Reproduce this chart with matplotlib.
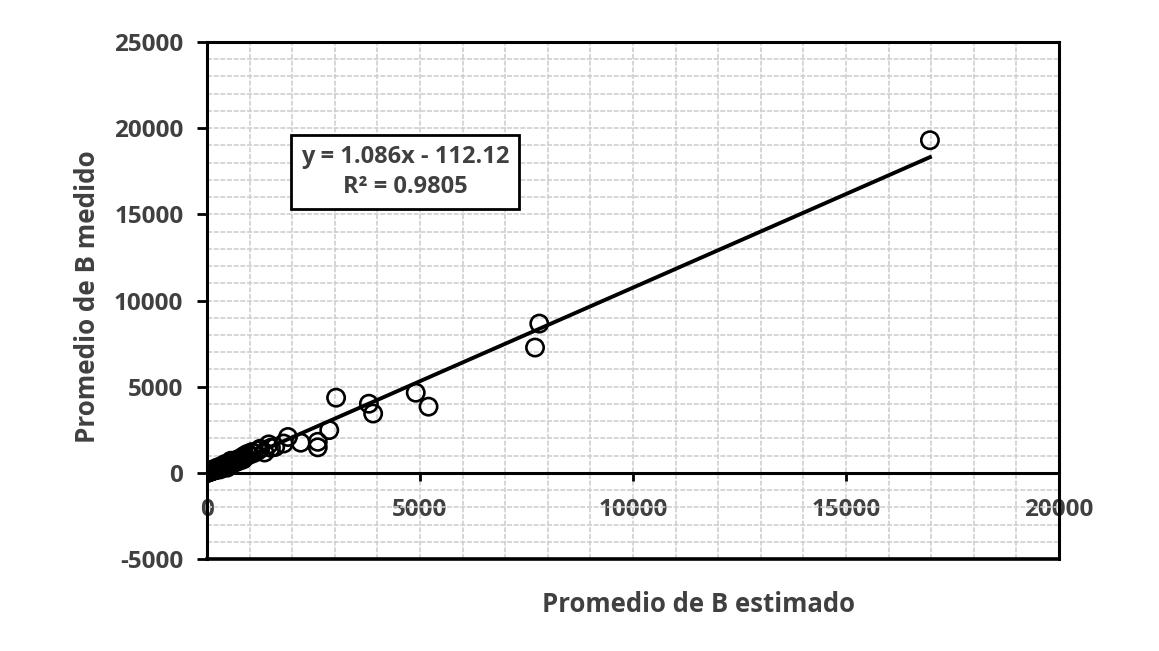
"""Scatter of measured vs estimated B average with linear trend line."""
import matplotlib.pyplot as plt
import numpy as np

estimado = [10, 20, 30, 40, 60, 70, 80, 100, 110, 120, 140, 150, 170, 190,
            200, 220, 230, 250, 260, 280, 300, 310, 320, 340, 350, 380, 400,
            410, 420, 450, 470, 480, 500, 520, 550, 560, 580, 600, 620, 650,
            680, 700, 720, 750, 780, 800, 820, 850, 880, 900, 950, 1000, 1050,
            1100, 1200, 1250, 1350, 1450, 1500, 1600, 1800, 1900, 2200, 2600,
            2600, 2870, 3030, 3800, 3900, 4900, 5200, 7700, 7800, 16970]
medido = [0, 10, 40, 30, 50, 100, 60, 90, 150, 100, 110, 130, 160, 250,
          180, 160, 200, 240, 320, 250, 300, 200, 280, 380, 330, 350, 390,
          500, 420, 400, 300, 460, 500, 480, 560, 700, 600, 550, 640, 700,
          620, 750, 700, 800, 720, 850, 900, 780, 1000, 950, 1100, 1050, 1200,
          1150, 1300, 1400, 1180, 1650, 1450, 1500, 1700, 2080, 1750, 1800,
          1480, 2480, 4360, 4010, 3440, 4650, 3840, 7270, 8660, 19300]

slope, intercept = 1.086, -112.12
r2 = 0.9805

TXT = "#404040"
FONT = ["Open Sans", "DejaVu Sans"]
W, H = 1159, 651
plt.rcParams["axes.unicode_minus"] = False

fig = plt.figure(figsize=(W / 100, H / 100), dpi=100)
ax = fig.add_axes([207 / W, 1 - 559 / H, (1059 - 207) / W, (559 - 42) / H])

ax.set_xlim(0, 20000)
ax.set_ylim(-5000, 25000)
ax.set_xticks(np.arange(0, 20001, 5000))
ax.set_yticks(np.arange(-5000, 25001, 5000))
ax.set_xticks(np.arange(0, 20001, 1000), minor=True)
ax.set_yticks(np.arange(-5000, 25001, 1000), minor=True)
ax.grid(which="both", color="#cfcfcf", linestyle=(0, (3, 1)), linewidth=1.2)
ax.set_axisbelow(True)

for s in ax.spines.values():
    s.set_linewidth(2.2)
ax.spines["bottom"].set_position(("data", 0))
ax.axhline(-5000, color="black", lw=2.6, clip_on=False, zorder=5)

ax.tick_params(axis="x", which="major", direction="out", length=6, width=2,
               pad=12, labelsize=17.5, labelcolor=TXT)
ax.tick_params(axis="y", which="major", direction="out", length=7, width=2,
               pad=10, labelsize=17.5, labelcolor=TXT)
ax.tick_params(which="minor", length=0)
for lab in ax.get_xticklabels() + ax.get_yticklabels():
    lab.set_fontfamily(FONT)
    lab.set_fontweight("bold")

ax.scatter(estimado, medido, s=155, facecolors="none", edgecolors="black",
           linewidths=1.9, zorder=4)

xs = np.array([min(estimado), max(estimado)])
ax.plot(xs, slope * xs + intercept, color="black", lw=2.8, zorder=3)

ax.text(405 / W, 1 - 172 / H,
        f"y = {slope}x - {abs(intercept)}\nR² = {r2}",
        transform=fig.transFigure, ha="center", va="center", fontsize=17,
        fontweight="bold", color=TXT, family=FONT, linespacing=1.35,
        bbox=dict(boxstyle="square,pad=0.4", fc="white", ec="black", lw=2))

fig.text(698 / W, 1 - 605 / H, "Promedio de B estimado", ha="center",
         va="center", fontsize=18.5, fontweight="bold", color=TXT, family=FONT)
fig.text(88 / W, 1 - 297 / H, "Promedio de B medido", ha="center",
         va="center", rotation=90, fontsize=18.7, fontweight="bold", color=TXT,
         family=FONT)

fig.savefig("out.png", dpi=100, facecolor="white")
